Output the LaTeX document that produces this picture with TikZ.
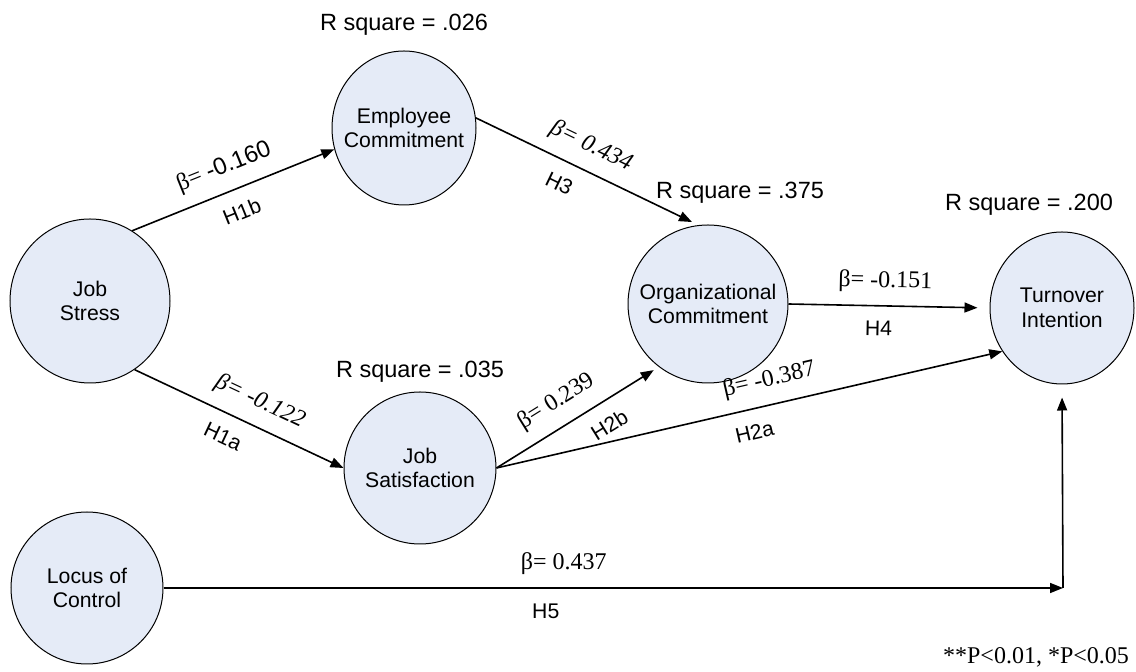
\documentclass[tikz,border=0pt]{standalone}
\usepackage{fontspec}
\setmainfont{Liberation Serif}
\setsansfont{Liberation Sans}
\usepackage{tikz}
\usetikzlibrary{arrows.meta, shapes.geometric}
\definecolor{light}{RGB}{229, 235, 247}

\begin{document}
\begin{tikzpicture}[x=0.5pt, y=-0.5pt, thick,
        construct/.style={ellipse, draw=black, line width=0.5pt, fill=light, inner sep=0pt},
        cname/.style={align=center, inner sep=0pt, font=\sffamily\fontsize{10.6}{12.2}\selectfont},
        link/.style={-{Triangle[length=6.5pt, width=5pt]}, line width=0.8pt},
        beta/.style={sloped, above=3pt, font=\fontsize{12}{14}\selectfont},
        hyp/.style={sloped, below=4pt, font=\sffamily\fontsize{10.6}{12}\selectfont},
        rsq/.style={font=\sffamily\fontsize{11.75}{14}\selectfont}]

    \useasboundingbox (0, 0) rectangle (1136, 672);

    \node[construct, minimum width=72pt, minimum height=77pt,
        label={[cname]center:{Employee\\Commitment}}] (ec) at (404, 128) {};
    \node[construct, minimum width=80pt, minimum height=82pt,
        label={[cname]center:{Job\\Stress}}] (js) at (90, 301) {};
    \node[construct, minimum width=76pt, minimum height=76pt,
        label={[cname]center:{Job\\Satisfaction}}] (jsat) at (420, 468) {};
    \node[construct, minimum width=76pt, minimum height=76pt,
        label={[cname]center:{Locus of\\Control}}] (loc) at (87, 588) {};
    \node[construct, minimum width=80pt, minimum height=79pt,
        label={[cname]center:{Organizational\\Commitment}}] (oc) at (708, 304) {};
    \node[construct, minimum width=72pt, minimum height=76pt,
        label={[cname]center:{Turnover\\Intention}}] (ti) at (1062, 308) {};

    \node[rsq] (rsq-ec) at (404, 25) {R square = .026};
    \node[rsq] (rsq-oc) at (740, 193) {R square = .375};
    \node[rsq] (rsq-ti) at (1029, 205) {R square = .200};
    \node[rsq] (rsq-jsat) at (420, 372) {R square = .035};

    \coordinate (corner) at (1063, 588);

    \draw[link] (js.59) -- (ec.197)
        node[beta, pos=0.5] {β= {\sffamily -0.160}}
        node[hyp, pos=0.5] {H1b};
    \draw[link, shorten >=3.5pt] (ec.8) -- (oc.97)
        node[beta, pos=0.47] {\itshape β= 0.434}
        node[hyp, pos=0.42] {H3};
    \draw[link] (js.-57) -- (jsat.180)
        node[beta, pos=0.55] {\itshape β= -0.122}
        node[hyp, pos=0.47] {H1a};
    \draw[link, shorten >=3pt] (jsat.0) -- (oc.232)
        node[beta, pos=0.45] {β= 0.239}
        node[hyp, pos=0.62, below=0pt] {H2b};
    \draw[link] (jsat.0) -- (ti.216)
        node[beta, pos=0.55] {β= -0.387}
        node[hyp, pos=0.5] {H2a};
    \draw[link, shorten >=6pt] (oc.0) -- (ti.180)
        node[beta, pos=0.48] {β= -0.151}
        node[hyp, pos=0.45] {H4};
    \draw[link] (loc.0) -- (corner)
        node[beta, pos=0.445] {β= 0.437}
        node[hyp, pos=0.425] {H5};
    \draw[link, shorten >=6.5pt] (corner) -- (ti.270);

    \node[font=\fontsize{12}{14}\selectfont] (pnote) at (1036, 657) {**P<0.01, *P<0.05};

\end{tikzpicture}
\end{document}
